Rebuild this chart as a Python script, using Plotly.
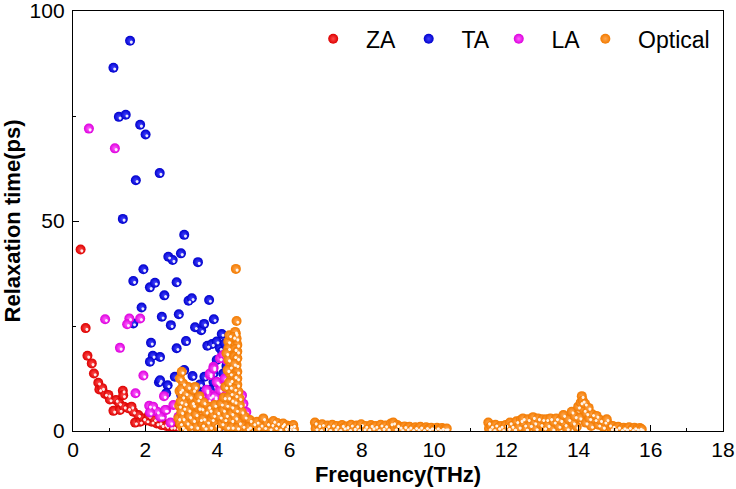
import plotly.graph_objects as go

# ---------------- data ----------------
za_x = [0.21,0.35,0.40,0.52,0.58,0.70,0.73,0.81,0.89,0.98,1.02,1.12,1.19,1.28,1.30,1.38,1.39,1.41,1.53,1.62,
        1.67,1.72,1.81,1.86,1.95,2.04,2.10,2.18,2.25,2.32,2.40,2.46,2.55,2.59,2.70,2.78,2.88,2.95,3.05,3.15,
        3.25,3.35,3.45,3.55,3.70,3.85,4.00]
za_y = [43.2,24.5,17.9,16.1,13.7,11.5,9.9,10.2,8.8,8.6,7.5,4.8,7.4,6.6,5.0,9.6,8.5,5.8,5.4,5.8,
        4.6,2.0,3.8,2.2,3.0,2.5,3.6,2.2,2.8,1.8,2.0,1.4,1.6,1.2,1.0,1.0,0.8,0.7,0.6,0.5,
        0.4,0.4,0.3,0.3,0.2,0.2,0.1]

ta_x = [1.58,1.12,1.27,1.46,1.86,2.01,1.74,2.40,1.38,3.08,2.64,2.76,2.99,3.46,1.95,1.67,2.13,2.27,2.87,2.53,
        3.20,3.29,3.77,1.90,2.46,2.93,3.90,2.71,1.67,3.38,3.55,3.63,4.12,2.16,3.13,3.72,3.85,3.98,2.87,2.21,
        2.41,2.13,4.07,4.21,3.98,4.13,3.08,2.82,3.31,3.64,2.38,2.62,3.52,3.89,3.89,4.16,2.58,3.79,4.12,4.21,
        3.93,3.47,2.41,4.25,4.30,4.05,4.20,3.60,3.90,4.35,4.10,3.00,3.25]
ta_y = [92.9,86.5,74.8,75.3,72.9,70.6,59.7,61.4,50.5,46.7,41.5,40.7,42.3,40.2,38.5,35.7,34.2,35.3,35.4,32.3,
        31.0,31.6,31.2,29.4,27.2,27.8,26.6,25.2,25.6,24.7,24.0,25.5,23.1,21.0,21.4,20.3,20.7,21.3,19.7,17.9,
        17.6,16.5,19.7,20.9,16.9,18.9,14.5,12.9,13.1,12.9,11.6,10.9,11.1,13.7,11.7,13.7,9.0,9.8,8.2,10.5,
        7.4,9.0,12.1,15.5,12.0,6.0,3.0,4.5,2.5,5.0,1.2,8.5,6.0]

la_x = [0.44,1.16,0.89,1.56,1.50,1.86,1.30,1.95,1.73,2.52,2.11,2.22,2.33,2.13,2.58,2.46,3.10,3.52,3.79,3.89,
        4.07,4.16,4.02,3.70,3.84,3.93,3.75,4.25,4.35,4.39,3.79,3.89,3.98,3.70,3.79,3.93,4.07,4.25,4.44,2.78,
        2.55,2.41,2.92,3.42,3.70,4.02,4.53,4.67,4.68,4.72,4.80,3.20,3.30,3.00,3.50,2.70,4.20,4.30,4.45,4.50,
        4.60]
la_y = [72.0,67.3,26.6,26.8,25.4,26.8,19.8,13.2,9.0,8.3,6.0,5.8,4.6,4.4,5.0,3.4,5.4,4.6,13.3,15.3,
        17.3,18.1,11.3,9.4,8.6,7.8,7.4,16.9,15.7,13.7,13.7,14.9,11.7,9.8,8.2,8.2,9.8,9.8,9.0,6.2,
        5.0,3.4,3.4,5.0,4.2,5.8,5.0,2.6,8.5,6.5,4.5,3.0,4.2,2.0,2.5,2.0,12.5,11.0,12.0,7.5,
        4.0]

opt_x = [2.92,2.94,2.95,2.96,3.01,3.05,3.00,3.03,2.98,3.06,3.00,3.04,2.97,3.02,3.08,3.10,3.12,3.15,
         3.19,3.24,3.20,3.22,3.25,3.30,3.33,3.33,3.33,3.38,3.40,3.42,3.45,3.50,3.48,3.52,3.56,3.58,3.61,3.62,
         3.65,3.68,3.72,3.75,3.79,3.80,3.85,3.89,3.92,3.95,4.00,4.02,4.07,4.10,4.12,4.16,4.18,4.20,4.25,4.22,
         4.27,4.24,
         4.30,4.30,4.25,4.30,4.35,4.35,4.37,4.35,4.37,4.39,4.39,4.39,4.39,4.40,4.33,4.28,4.32,4.30,
         4.51,4.53,4.51,4.49,4.44,4.53,4.55,4.48,4.55,4.47,4.55,4.53,4.46,4.55,4.48,4.55,4.55,4.47,4.58,4.50,
         4.61,4.48,4.62,4.52,4.67,4.50,4.60,4.55,4.76,4.70,4.82,4.90,4.88,5.00,5.09,5.12,5.20,5.27,5.30,
         5.38,5.45,5.50,5.55,5.60,5.66,5.72,5.78,5.82,5.88,5.92,5.98,6.02,6.08,6.10,6.12,
         6.70,6.72,6.80,6.85,6.90,6.98,7.05,7.10,7.18,7.25,7.30,7.38,7.45,7.50,7.58,7.65,7.70,7.78,7.85,7.90,
         7.98,8.05,8.10,8.18,8.25,8.30,8.38,8.45,8.52,8.58,8.65,8.72,8.80,8.87,8.92,8.98,9.05,9.10,9.18,9.25,
         9.32,9.40,9.48,9.55,9.62,9.70,9.78,9.85,9.92,10.00,10.08,10.15,10.22,10.30,10.35,
         11.50,11.52,11.58,11.65,11.70,11.78,11.85,11.90,11.98,12.05,12.10,12.15,12.22,12.28,12.35,12.40,12.46,
         12.50,12.55,12.60,12.66,12.74,12.78,12.82,12.88,12.95,13.00,13.05,13.11,13.15,13.22,13.28,13.32,13.38,
         13.45,13.50,13.58,13.62,13.68,13.72,13.81,13.85,13.90,13.95,13.99,14.03,14.06,14.09,14.12,14.15,14.18,
         14.20,14.22,14.28,14.30,14.35,14.38,14.45,14.50,14.55,14.60,14.68,14.72,14.78,14.85,14.90,14.95,15.02,
         15.10,15.18,15.25,15.32,15.40,15.48,15.55,15.62,15.70,15.75]
opt_y = [3.0,6.0,9.5,12.5,14.1,11.3,10.0,8.2,7.0,5.5,4.5,3.0,1.8,1.0,0.4,6.6,9.0,2.0,
         10.5,8.2,5.0,3.5,1.2,6.8,9.8,6.2,2.6,10.5,4.0,1.0,7.5,8.3,5.5,2.8,5.4,1.5,3.0,6.8,
         0.8,4.6,2.2,5.8,5.0,1.0,2.8,3.8,6.2,1.5,4.5,0.7,3.4,6.5,1.8,5.0,8.0,2.8,6.2,10.5,
         1.0,3.8,
         21.3,19.7,18.5,17.0,15.3,13.7,12.1,10.5,9.0,7.4,5.8,4.2,2.6,1.0,22.8,14.5,11.5,8.0,
         38.6,26.2,23.2,23.6,22.4,22.0,20.5,19.5,18.9,17.8,17.3,15.7,16.0,14.1,13.0,12.5,11.0,10.0,9.4,8.5,
         7.8,7.0,6.2,5.0,4.6,3.2,2.0,0.8,3.4,1.2,0.6,2.6,1.0,1.8,2.2,0.8,1.5,3.0,0.9,
         1.8,0.6,1.6,2.4,0.9,1.9,0.5,1.4,1.8,0.7,1.3,0.5,1.2,0.6,1.4,0.4,
         2.0,0.6,1.4,0.4,1.6,0.7,1.3,0.4,1.5,0.6,1.2,0.4,1.4,0.8,1.1,0.4,1.5,0.7,1.3,0.4,
         1.6,0.6,1.2,0.5,1.4,0.8,1.2,0.4,1.5,0.7,1.3,0.5,1.8,2.0,0.6,1.4,1.0,0.4,1.1,0.6,
         1.0,0.4,0.9,0.5,1.0,0.4,0.9,0.5,0.8,0.4,0.8,0.4,0.7,0.5,0.6,
         2.0,0.6,1.2,0.4,1.5,0.8,1.2,0.4,1.4,0.7,2.0,1.2,0.5,2.3,1.0,2.6,3.0,
         1.5,0.5,2.8,1.4,3.3,2.0,0.6,3.0,1.6,2.8,0.8,2.8,1.4,3.0,0.5,2.2,3.0,
         1.2,2.6,3.8,1.6,0.6,2.8,4.6,2.0,3.5,1.0,5.8,3.2,6.8,8.3,7.2,5.0,6.5,
         2.0,4.2,5.5,3.0,1.2,4.0,2.8,3.6,1.5,2.6,1.0,2.2,2.8,1.5,0.6,1.2,0.6,
         1.0,0.4,0.8,0.5,0.9,0.4,0.8,0.5,0.7,0.4]

series_names = ["ZA", "TA", "LA", "Optical"]
x_ticks = [0, 2, 4, 6, 8, 10, 12, 14, 16, 18]
y_ticks = [0, 50, 100]

# ---------------- styles ----------------
NB = "\u00a0"
TH = "\u2009"
HR = "\u200a"
legend_labels = {
    "ZA": NB + NB + "ZA" + NB + HR,
    "TA": NB + NB + "TA" + TH,
    "LA": NB + NB + "LA",
    "Optical": NB + NB + "Optical",
}
styles = {
    "ZA": dict(edge="#dc0000", center="#ff4a4a"),
    "TA": dict(edge="#0000cc", center="#4040ff"),
    "LA": dict(edge="#dc00dc", center="#ff60ff"),
    "Optical": dict(edge="#f27a00", center="#ffa64d"),
}
data = {"ZA": (za_x, za_y), "TA": (ta_x, ta_y), "LA": (la_x, la_y), "Optical": (opt_x, opt_y)}

fig = go.Figure()
for name in series_names:
    xs, ys = data[name]
    st = styles[name]
    fig.add_trace(go.Scatter(
        x=xs, y=ys, mode="markers", name=legend_labels[name],
        marker=dict(size=10, color=st["edge"], line=dict(width=0),
                    gradient=dict(type="radial", color=st["center"])),
    ))
    fig.add_trace(go.Scatter(
        x=xs, y=ys, mode="markers", showlegend=False, hoverinfo="skip",
        marker=dict(size=3, color="rgba(255,255,255,0.9)", line=dict(width=0),
                    angle=-45, standoff=1.8),
    ))

font_family = "Liberation Sans, Arial, sans-serif"
axis_common = dict(
    showline=True, linecolor="black", linewidth=1.3, mirror=True,
    ticks="inside", ticklen=6, tickwidth=1.2, tickcolor="black",
    showgrid=False, zeroline=False, automargin=False, ticklabeloverflow="allow",
    tickfont=dict(family=font_family, size=21, color="black"),
)
fig.update_xaxes(
    range=[0, 18], tickvals=x_ticks, ticktext=[str(v) for v in x_ticks],
    minor=dict(dtick=1, ticks="inside", ticklen=3, tickwidth=1.2, tickcolor="black"),
    title=dict(text="<b>Frequency(THz)</b>", font=dict(family=font_family, size=22, color="black"), standoff=6),
    **axis_common,
)
fig.update_yaxes(
    range=[0, 100], tickvals=y_ticks, ticktext=[str(v) for v in y_ticks],
    minor=dict(dtick=25, ticks="inside", ticklen=3, tickwidth=1.2, tickcolor="black"),
    title=dict(text="<b>Relaxation time(ps)</b>", font=dict(family=font_family, size=22, color="black"), standoff=16),
    ticklabelstandoff=3,
    **axis_common,
)
fig.update_layout(
    width=736, height=489,
    margin=dict(l=73, r=13, t=11, b=58),
    plot_bgcolor="white", paper_bgcolor="white",
    showlegend=True,
    legend=dict(orientation="h", x=0.988, xanchor="right", y=0.985, yanchor="top",
                bgcolor="rgba(0,0,0,0)", font=dict(family=font_family, size=23, color="black"),
                itemsizing="trace"),
)
fig.write_html("out.html")
